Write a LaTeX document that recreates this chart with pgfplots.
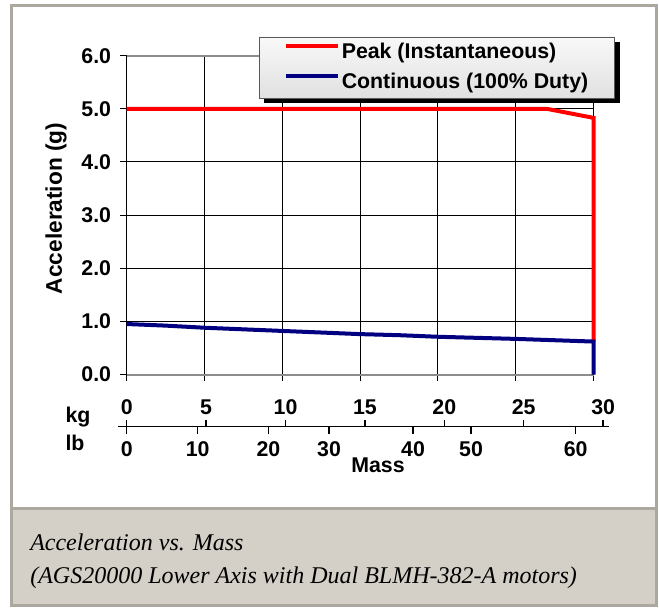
\documentclass[border=0pt]{standalone}
\usepackage{fontspec}
\setmainfont{Liberation Sans}
\newfontfamily\capfont{Liberation Serif}
\usepackage{pgfplots}
\pgfplotsset{compat=1.18}
\definecolor{peakred}{HTML}{FF0000}
\definecolor{contblue}{HTML}{000080}
\definecolor{framegray}{HTML}{ADA89F}
\definecolor{capgray}{HTML}{D4D0C8}
\definecolor{boxline}{HTML}{8C8C8C}

\begin{document}
\begin{tikzpicture}[x=0.75pt,y=0.75pt]
\useasboundingbox (0,0) rectangle (659,607);
\fill[white] (0,0) rectangle (659,607);
\fill[capgray] (11.5,2) rectangle (656.5,98.3);

% main chart
\begin{axis}[
    at={(95.025pt,174.375pt)}, anchor=south west,
    scale only axis, width=350.1pt, height=239.1pt,
    xmin=0, xmax=30, ymin=0, ymax=6,
    xtick={0,5,...,30}, xticklabels={},
    ytick={0,1,...,6},
    yticklabel style={/pgf/number format/.cd, fixed, fixed zerofill, precision=1,
        /tikz/.cd, xshift=-3.2pt},
    /pgf/number format/assume math mode=true,
    ticklabel style={font=\bfseries\fontsize{16}{19}\selectfont},
    grid=major, major grid style={black, line width=0.7pt},
    tick align=outside, tick pos=left, major tick length=5pt,
    tick style={black, line width=0.75pt},
    separate axis lines,
    x axis line style={draw=boxline, line width=1.5pt},
    y axis line style={draw=black, line width=0.75pt},
    clip=false,
    ylabel={Acceleration (g)},
    ylabel style={font=\bfseries\fontsize{17}{20}\selectfont,
        at={(axis description cs:-0.1515,0.521)}, anchor=center},
    legend style={at={(axis description cs:0.284,1.0596)}, anchor=north west,
        draw=gray!70!black, line width=0.75pt, fill=none,
        inner xsep=18pt, inner ysep=0.5pt,
        font=\bfseries\fontsize{16}{19}\selectfont,
        nodes={inner xsep=1.5pt, inner ysep=3.75pt, text height=11.5pt, text depth=3.5pt},
        cells={anchor=west}},
    legend image code/.code={\draw[#1] (0pt,5pt) -- (39pt,5pt);},
]
% legend box: shadow and shaded face
\fill[black] (axis description cs:0.2948,1.0439) rectangle (axis description cs:1.0557,0.8507);
\shade[top color=gray!5, bottom color=gray!24]
    (axis description cs:0.2841,1.0596) rectangle (axis description cs:1.0450,0.8664);

\addplot[peakred, line width=3pt] coordinates {
    (0,5.00) (27,5.00) (30,4.83) (30,0.63)
};
\addlegendentry{Peak (Instantaneous)}
\addplot[contblue, line width=3pt] coordinates {
    (0,0.95) (2.5,0.92) (5,0.88) (7.5,0.85) (10,0.82) (12.5,0.79)
    (15,0.76) (17.5,0.74) (20,0.71) (22.5,0.69) (25,0.67) (27.5,0.645)
    (30,0.62) (30,0)
};
\addlegendentry{Continuous (100\% Duty)}
\end{axis}

% kg scale
\begin{axis}[
    at={(88.5pt,135.225pt)}, anchor=north west,
    scale only axis, width=368.25pt, height=10pt,
    xmin=-0.548, xmax=30.37, ymin=0, ymax=1,
    axis x line=top, axis y line=none,
    axis line style={black, line width=1pt, -},
    xtick={0,5,...,30},
    tick align=outside, major tick length=5.25pt,
    tick style={black, line width=1pt},
    /pgf/number format/assume math mode=true,
    ticklabel style={font=\bfseries\fontsize{16}{19}\selectfont},
]
\end{axis}

% lb scale
\begin{axis}[
    at={(88.5pt,135.225pt)}, anchor=south west,
    scale only axis, width=368.25pt, height=10pt,
    xmin=-0.548, xmax=30.37, ymin=0, ymax=1,
    axis x line=bottom, axis y line=none,
    axis line style={black, line width=1pt, -},
    xtick={0,4.47,8.92,12.74,18.03,21.68,28.27},
    xticklabels={0,10,20,30,40,50,60},
    tick align=outside, major tick length=5.25pt,
    tick style={black, line width=1pt},
    ticklabel style={font=\bfseries\fontsize{16}{19}\selectfont, yshift=-2.5pt},
]
\end{axis}

\node[font=\bfseries\fontsize{16}{19}\selectfont] at (78,190.3) {kg};
\node[font=\bfseries\fontsize{16}{19}\selectfont] at (75,164) {lb};
\node[font=\bfseries\fontsize{16}{19}\selectfont] at (378,142) {Mass};

\node[anchor=base west, inner sep=0, font=\capfont\itshape\fontsize{18}{22}\selectfont]
    at (30,57) {Acceleration vs. Mass};
\node[anchor=base west, inner sep=0, font=\capfont\itshape\fontsize{18}{22}\selectfont]
    at (30,24) {(AGS20000 Lower Axis with Dual BLMH-382-A motors)};

% frame
\draw[framegray, line width=2.25pt] (11.5,98.3) -- (656.5,98.3);
\draw[framegray, line width=2.25pt] (11.5,601.5) rectangle (656.5,2);
\end{tikzpicture}
\end{document}
